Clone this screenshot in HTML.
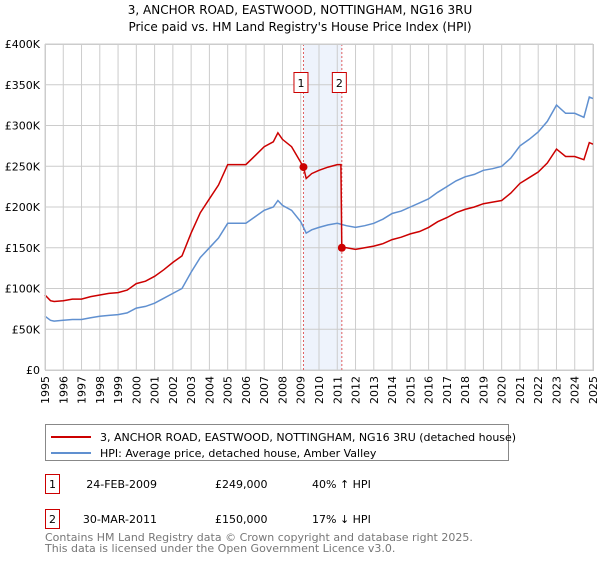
<!DOCTYPE html>
<html><head><meta charset="utf-8"><style>
body{margin:0;background:#fff;width:600px;height:560px;overflow:hidden;font-family:"DejaVu Sans","Liberation Sans",sans-serif;}
svg text{font-family:"DejaVu Sans","Liberation Sans",sans-serif;}
</style></head><body>
<svg id="chart" width="600" height="560">
<text x="300" y="14" text-anchor="middle" font-size="12">3, ANCHOR ROAD, EASTWOOD, NOTTINGHAM, NG16 3RU</text>
<text x="300" y="31" text-anchor="middle" font-size="12">Price paid vs. HM Land Registry's House Price Index (HPI)</text>
<g id="grid"></g><g id="marks"></g><g id="axes"></g>
<g>
<rect x="45.5" y="424.5" width="463" height="36" fill="#fff" stroke="#888"/>
<line x1="51" y1="437" x2="91" y2="437" stroke="#cc0000" stroke-width="2"/>
<text x="100" y="441" font-size="11">3, ANCHOR ROAD, EASTWOOD, NOTTINGHAM, NG16 3RU (detached house)</text>
<line x1="51" y1="453" x2="91" y2="453" stroke="#6090d0" stroke-width="2"/>
<text x="100" y="457" font-size="11">HPI: Average price, detached house, Amber Valley</text>
</g>
<g font-size="11">
<rect x="45.5" y="474.5" width="14" height="19" fill="none" stroke="#cc0000"/>
<text x="52.5" y="488" text-anchor="middle">1</text>
<text x="157" y="488" text-anchor="end">24-FEB-2009</text>
<text x="215" y="488">£249,000</text>
<text x="312" y="488">40% ↑ HPI</text>
<rect x="45.5" y="509.5" width="14" height="19" fill="none" stroke="#cc0000"/>
<text x="52.5" y="523" text-anchor="middle">2</text>
<text x="157" y="523" text-anchor="end">30-MAR-2011</text>
<text x="215" y="523">£150,000</text>
<text x="312" y="523">17% ↓ HPI</text>
</g>
<text x="45" y="541" font-size="11" fill="#777">Contains HM Land Registry data © Crown copyright and database right 2025.</text>
<text x="45" y="552" font-size="11" fill="#777">This data is licensed under the Open Government Licence v3.0.</text>
</svg>
<script>
const hpiYears=[1995,1995.3,1995.5,1996,1996.5,1997,1997.5,1998,1998.5,1999,1999.5,2000,2000.5,2001,2001.5,2002,2002.5,2003,2003.5,2004,2004.5,2005,2005.5,2006,2006.5,2007,2007.5,2007.75,2008,2008.5,2009,2009.3,2009.6,2010,2010.5,2011,2011.5,2012,2012.5,2013,2013.5,2014,2014.5,2015,2015.5,2016,2016.5,2017,2017.5,2018,2018.5,2019,2019.5,2020,2020.5,2021,2021.5,2022,2022.5,2023,2023.5,2024,2024.5,2024.8,2025];
const hpiValues=[66,61,60,61,62,62,64,66,67,68,70,76,78,82,88,94,100,120,138,150,162,180,180,180,188,196,200,208,202,196,182,168,172,175,178,180,177,175,177,180,185,192,195,200,205,210,218,225,232,237,240,245,247,250,260,275,283,292,305,325,315,315,310,335,333];
const propYears=[1995,1995.3,1995.5,1996,1996.5,1997,1997.5,1998,1998.5,1999,1999.5,2000,2000.5,2001,2001.5,2002,2002.5,2003,2003.5,2004,2004.5,2005,2005.5,2006,2006.5,2007,2007.5,2007.75,2008,2008.5,2009,2009.15,2009.3,2009.6,2010,2010.5,2011,2011.2,2011.25,2011.5,2012,2012.5,2013,2013.5,2014,2014.5,2015,2015.5,2016,2016.5,2017,2017.5,2018,2018.5,2019,2019.5,2020,2020.5,2021,2021.5,2022,2022.5,2023,2023.5,2024,2024.5,2024.8,2025];
const propValues=[92,85,84,85,87,87,90,92,94,95,98,106,109,115,123,132,140,168,193,210,227,252,252,252,263,274,280,291,283,274,255,249,235,241,245,249,252,252,150,150,148,150,152,155,160,163,167,170,175,182,187,193,197,200,204,206,208,217,229,236,243,254,271,262,262,258,279,277];
const saleYears=[2009.15,2011.25];
const salePrices=[249,150];
const saleLabels=['1','2'];
const yTicks=[0,50,100,150,200,250,300,350,400];
const yTickLabels=['£0','£50K','£100K','£150K','£200K','£250K','£300K','£350K','£400K'];
const xTicks=[1995,1996,1997,1998,1999,2000,2001,2002,2003,2004,2005,2006,2007,2008,2009,2010,2011,2012,2013,2014,2015,2016,2017,2018,2019,2020,2021,2022,2023,2024,2025];

const NS='http://www.w3.org/2000/svg';
const X0=45,X1=593,Y0=370,Y1=44;
const xs=y=>X0+(y-1995)/30*(X1-X0);
const ys=v=>Y0-v/400*(Y0-Y1);
function mk(tag,attrs,parent){const e=document.createElementNS(NS,tag);for(const k in attrs)e.setAttribute(k,attrs[k]);parent.appendChild(e);return e;}
const grid=document.getElementById('grid'),marks=document.getElementById('marks'),axes=document.getElementById('axes');
let sh=mk('rect',{x:xs(saleYears[0]),y:Y1,width:xs(saleYears[1])-xs(saleYears[0]),height:Y0-Y1,fill:'#eef3fc'},grid);


yTicks.forEach((t,i)=>{
 let l=mk('line',{x1:X0,x2:X1,y1:ys(t),y2:ys(t),stroke:'#ccc'},grid);
 
 
 let tx=mk('text',{x:40,y:ys(t)+4,'text-anchor':'end','font-size':'11'},axes);tx.textContent=yTickLabels[i];
 
 
});
xTicks.forEach(t=>{
 let l=mk('line',{x1:xs(t),x2:xs(t),y1:Y1,y2:Y0,stroke:'#ccc'},grid);
 
 
 let tx=mk('text',{x:0,y:0,'text-anchor':'end','font-size':'11',transform:`translate(${xs(t)+4},${Y0+6}) rotate(-90)`},axes);tx.textContent=t;
 
 
});
saleYears.forEach((s,i)=>{
 let l=mk('line',{x1:xs(s),x2:xs(s),y1:Y1,y2:Y0,stroke:'#e06060','stroke-dasharray':'2,2'},grid);
 
 
 let bx=xs(s)-9.5;
 let r=mk('rect',{x:bx,y:72.5,width:14,height:20,fill:'#fff',stroke:'#cc0000'},axes);
 
 
 let tx=mk('text',{x:bx+7,y:87,'text-anchor':'middle','font-size':'11'},axes);tx.textContent=saleLabels[i];
 
 
});
function path(yrs,vals){return yrs.map((y,i)=>(i?'L':'M')+xs(y).toFixed(1)+','+ys(vals[i]).toFixed(1)).join('');}
let hp=mk('path',{d:path(hpiYears,hpiValues),fill:'none',stroke:'#6090d0','stroke-width':1.5},marks);


let pp=mk('path',{d:path(propYears,propValues),fill:'none',stroke:'#cc0000','stroke-width':1.5},marks);


saleYears.forEach((s,i)=>{
 let c=mk('circle',{cx:xs(s),cy:ys(salePrices[i]),r:4,fill:'#cc0000'},marks);
 
 
});
let fr=mk('rect',{x:X0+0.5,y:Y1+0.5,width:X1-X0,height:Y0-Y1,fill:'none',stroke:'#ccc'},axes);


</script>
</body></html>
